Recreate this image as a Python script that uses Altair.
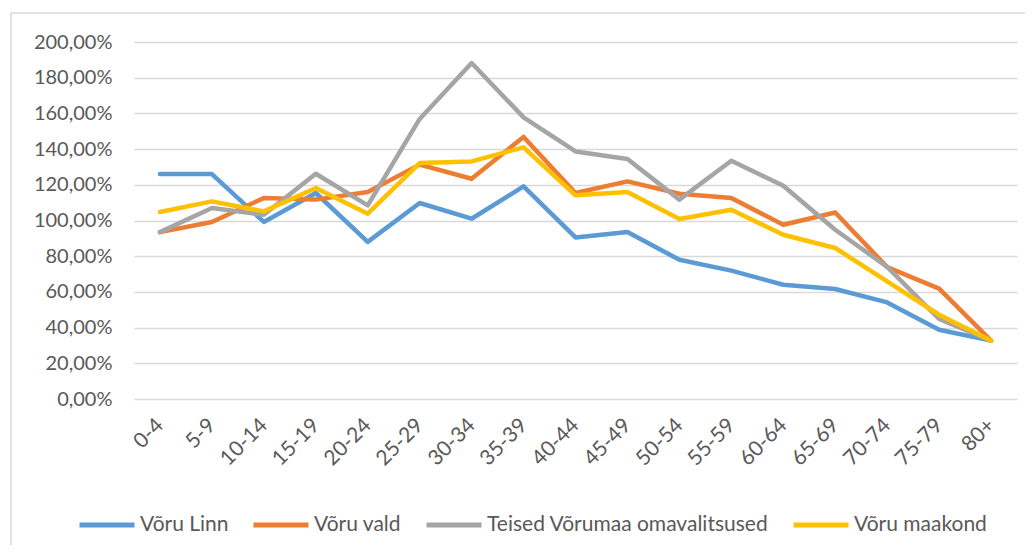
import altair as alt
import pandas as pd

categories = ["0-4", "5-9", "10-14", "15-19", "20-24", "25-29", "30-34", "35-39", "40-44",
              "45-49", "50-54", "55-59", "60-64", "65-69", "70-74", "75-79", "80+"]
series_names = ["Võru Linn", "Võru vald", "Teised Võrumaa omavalitsused", "Võru maakond"]
series_colors = ["#5B9BD5", "#ED7D31", "#A5A5A5", "#FFC000"]

voru_linn = [126.1, 126.0, 99.2, 115.4, 88.0, 109.8, 101.0, 119.1, 90.5, 93.5, 78.0, 71.9, 64.0, 61.6, 54.1, 38.8, 32.7]
voru_vald = [93.5, 99.2, 112.6, 111.7, 116.0, 131.3, 123.4, 146.8, 115.4, 121.9, 115.0, 112.6, 97.6, 104.5, 73.9, 61.8, 32.7]
teised = [93.5, 107.0, 103.2, 126.2, 108.5, 156.9, 188.2, 157.8, 138.7, 134.5, 111.7, 133.5, 119.5, 94.8, 74.0, 44.8, 32.7]
voru_maakond = [104.8, 110.7, 105.1, 118.2, 103.8, 132.2, 133.1, 141.0, 114.1, 116.0, 100.8, 106.0, 92.0, 84.6, 65.9, 47.2, 32.7]

rows = []
for name, vals in zip(series_names, [voru_linn, voru_vald, teised, voru_maakond]):
    for c, v in zip(categories, vals):
        rows.append({"vanus": c, "seeria": name, "vaartus": v / 100.0})
df = pd.DataFrame(rows)

FONT = "Lato"
TEXT = "#595959"
GRID = "#D9D9D9"

lines = alt.Chart(df).mark_line(strokeWidth=4.5, strokeJoin="round", strokeCap="round").encode(
    x=alt.X("vanus:N", sort=categories, scale=alt.Scale(type="point", padding=0.5),
            axis=alt.Axis(title=None, labelAngle=-45, labelAlign="right", labelBaseline="middle",
                          labelPadding=23, ticks=False, domain=False, grid=False,
                          labelFont=FONT, labelFontSize=21, labelColor=TEXT)),
    y=alt.Y("vaartus:Q", scale=alt.Scale(domain=[0, 2.0], nice=False),
            axis=alt.Axis(title=None, values=[i / 10 for i in range(0, 21, 2)],
                          labelExpr="replace(format(datum.value, '.2%'), '.', ',')",
                          ticks=False, domain=False, gridColor=GRID, gridWidth=1.3,
                          labelPadding=22, labelFont=FONT, labelFontSize=20, labelColor=TEXT)),
    color=alt.Color("seeria:N", scale=alt.Scale(domain=series_names, range=series_colors),
                    legend=alt.Legend(title=None, orient="none", legendX=-57, legendY=453,
                                      direction="horizontal", symbolType="stroke",
                                      symbolSize=3025, symbolStrokeWidth=5,
                                      labelFont=FONT, labelFontSize=21, labelColor=TEXT,
                                      labelLimit=500, labelOffset=3, columnPadding=14)),
)

frame = alt.Chart(pd.DataFrame({"a": [0]})).mark_rect(fill=None, stroke=GRID, strokeWidth=1.5).encode(
    x=alt.value(-123), x2=alt.value(1000), y=alt.value(-29), y2=alt.value(700)
)

chart = alt.layer(frame, lines).properties(
    width=883, height=357,
    autosize=alt.AutoSizeParams(type="none"),
    padding={"left": 126, "top": 34, "right": 8, "bottom": 146},
).configure_view(stroke=None)

chart.save("out.html", embed_options={"renderer": "svg", "actions": False})
